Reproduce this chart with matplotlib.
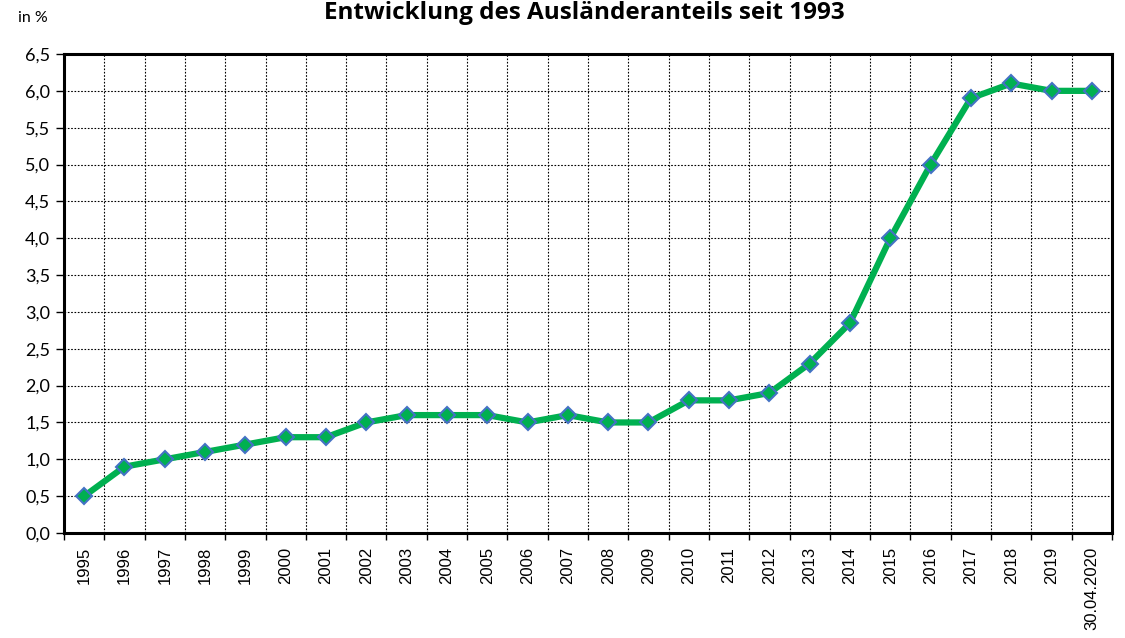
import numpy as np
import matplotlib.pyplot as plt

# data
labels = [str(y) for y in range(1995, 2020)] + ['30.04.2020']
share = [0.5, 0.9, 1.0, 1.1, 1.2, 1.3, 1.3, 1.5, 1.6, 1.6, 1.6, 1.5, 1.6, 1.5, 1.5,
         1.8, 1.8, 1.9, 2.3, 2.85, 4.0, 5.0, 5.9, 6.1, 6.0, 6.0]
yticks = np.arange(0, 6.51, 0.5)

fig = plt.figure(figsize=(11.25, 6.38), dpi=100)
ax = fig.add_axes([64 / 1125, 1 - 533 / 638, (1112 - 64) / 1125, (533 - 54) / 638])

x = np.arange(len(labels))
ax.plot(x, share, color='#00B050', lw=4.5, zorder=3,
        marker='D', markersize=8.5, markerfacecolor='#00B050',
        markeredgecolor='#4472C4', markeredgewidth=1.5)

ax.set_xlim(-0.5, len(labels) - 0.5)
ax.set_ylim(0, 6.5)

# grid lines sit on category boundaries
ax.set_xticks(np.arange(len(labels) + 1) - 0.5)
ax.set_xticklabels([])
ax.set_xticks(x, minor=True)
ax.set_xticklabels(labels, minor=True, rotation=90, fontsize=12, family='Liberation Sans')
ax.tick_params(axis='x', which='minor', length=0, pad=10)
ax.tick_params(axis='x', which='major', length=5, width=1, direction='out')

ax.set_yticks(yticks)
ax.set_yticklabels([f'{v:.1f}'.replace('.', ',') for v in yticks], fontsize=13, family='Lato')
ax.tick_params(axis='y', length=6, width=1, direction='out', pad=4)

ax.grid(True, which='major', color='black', linestyle=(0, (1.5, 1.5)), lw=0.8)
for s in ax.spines.values():
    s.set_linewidth(2.2)

fig.text(584 / 1125, 1 - 19 / 638, 'Entwicklung des Ausländeranteils seit 1993',
         ha='center', va='baseline', fontsize=17.5, fontweight='bold', family='Open Sans')
fig.text(18 / 1125, 1 - 18 / 638, 'in %', ha='left', va='center', fontsize=11.5, family='Lato')

fig.savefig('out.png', dpi=100)
